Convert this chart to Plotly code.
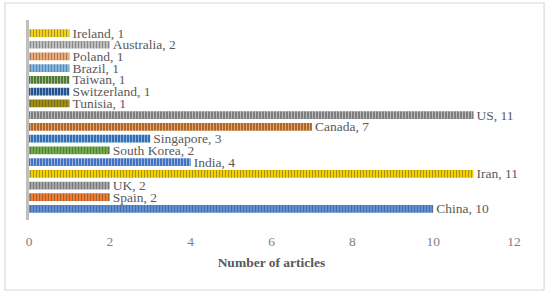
import plotly.graph_objects as go

countries = ["China", "Spain", "UK", "Iran", "India", "South Korea", "Singapore",
             "Canada", "US", "Tunisia", "Switzerland", "Taiwan", "Brazil",
             "Poland", "Australia", "Ireland"]
articles = [10, 2, 2, 11, 4, 2, 3, 7, 11, 1, 1, 1, 1, 1, 2, 1]
colors = ["#5B8FD9", "#ED7D31", "#A5A5A5", "#F5D000", "#4472C4", "#70AD47",
          "#2E6FB6", "#B5651D", "#7F7F7F", "#A08C10", "#24548F", "#4E7A32",
          "#7FB8E6", "#F0A875", "#BFBFBF", "#F2D21B"]
x_ticks = [0, 2, 4, 6, 8, 10, 12]
x_title = "Number of articles"

labels = [f"{c}, {v}" for c, v in zip(countries, articles)]
FONT = "Liberation Serif"

fig = go.Figure(go.Bar(
    x=articles, y=countries, orientation="h",
    width=0.66,
    marker=dict(color=colors, line=dict(width=0),
                pattern=dict(shape="|", fillmode="overlay",
                             fgcolor="rgba(255,255,255,0.55)", size=3, solidity=0.3)),
    text=labels, textposition="outside", cliponaxis=False, constraintext="none",
    textfont=dict(family=FONT, size=13.5, color="#595959"),
))

fig.update_layout(
    width=550, height=293,
    margin=dict(l=29, r=36, t=20, b=73),
    paper_bgcolor="white", plot_bgcolor="white",
    showlegend=False,
    font=dict(family=FONT, color="#7F7F7F"),
    xaxis=dict(range=[0, 12], tickvals=x_ticks, showgrid=False, zeroline=False,
               showline=False, ticks="", ticklabelstandoff=11, automargin=False,
               tickfont=dict(family=FONT, size=13.5, color="#808080"),
               title=dict(text="<b>" + x_title + "</b>", standoff=10,
                          font=dict(family=FONT, size=13.5, color="#595959"))),
    yaxis=dict(range=[-0.94, 16.11], showticklabels=False, showgrid=False,
               zeroline=False, showline=True, linecolor="#BFBFBF", linewidth=2.5,
               ticks="", automargin=False),
    shapes=[dict(type="rect", xref="paper", yref="paper",
                 x0=-0.0495, x1=1.062, y0=-0.35, y1=1.085,
                 line=dict(color="#D9D9D9", width=1.2), fillcolor="rgba(0,0,0,0)",
                 layer="below")],
)

fig.write_html("out.html", config={"displayModeBar": False},
               post_script="document.body.style.margin='0';")
